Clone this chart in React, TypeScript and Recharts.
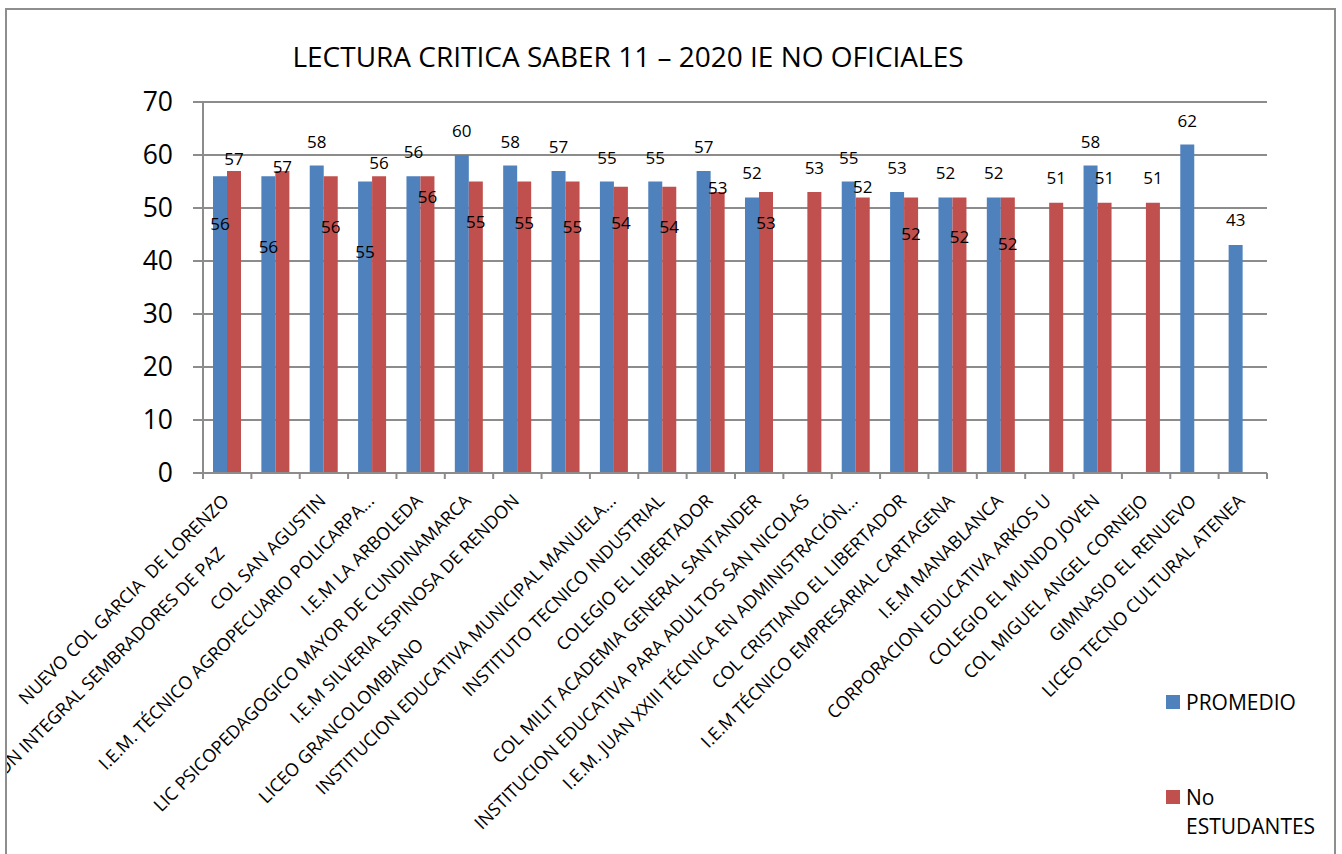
import React from 'react';
import { BarChart, Bar, XAxis, YAxis, CartesianGrid, LabelList, Legend } from 'recharts';

const categories = [
  'NUEVO COL GARCIA  DE LORENZO',
  'INSTITUCION INTEGRAL SEMBRADORES DE PAZ',
  'COL SAN AGUSTIN',
  'I.E.M. TÉCNICO AGROPECUARIO POLICARPA...',
  'I.E.M LA ARBOLEDA',
  'LIC PSICOPEDAGOGICO MAYOR DE CUNDINAMARCA',
  'I.E.M SILVERIA ESPINOSA DE RENDON',
  'LICEO GRANCOLOMBIANO',
  'INSTITUCION EDUCATIVA MUNICIPAL MANUELA...',
  'INSTITUTO TECNICO INDUSTRIAL',
  'COLEGIO EL LIBERTADOR',
  'COL MILIT ACADEMIA GENERAL SANTANDER',
  'INSTITUCION EDUCATIVA PARA ADULTOS SAN NICOLAS',
  'I.E.M. JUAN XXIII TÉCNICA EN ADMINISTRACIÓN...',
  'COL CRISTIANO EL LIBERTADOR',
  'I.E.M TÉCNICO EMPRESARIAL CARTAGENA',
  'I.E.M MANABLANCA',
  'CORPORACION EDUCATIVA ARKOS U',
  'COLEGIO EL MUNDO JOVEN',
  'COL MIGUEL ANGEL CORNEJO',
  'GIMNASIO EL RENUEVO',
  'LICEO TECNO CULTURAL ATENEA',
];

const promedio: (number | null)[] = [56, 56, 58, 55, 56, 60, 58, 57, 55, 55, 57, 52, null, 55, 53, 52, 52, null, 58, null, 62, 43];
const noEstudiantes: (number | null)[] = [57, 57, 56, 56, 56, 55, 55, 55, 54, 54, 53, 53, 53, 52, 52, 52, 52, 51, 51, 51, null, null];
const yTicks = [0, 10, 20, 30, 40, 50, 60, 70];

const title = 'LECTURA CRITICA SABER 11 – 2020 IE NO OFICIALES';
const seriesNames = ['PROMEDIO', 'No ESTUDANTES'];

// layout of value labels (px from bar top to label centre), as placed in the reference
const promedioLabelOffset = [48, 71, -24, 70, -24, -24, -24, -24, -24, -24, -24, -24, 0, -24, -24, -24, -24, 0, -24, 0, -23, -25];
const estudiantesLabelOffset = [-12, -4, 51, -13, 21, 40, 41, 45, 36, 40, -4, 31, -24, -10, 37, 40, 47, -25, -25, -25, 0, 0];
// some category labels sit lower along their diagonal in the reference
const tickLabelDrop = [0, 53, 0, 0, 0, 0, 0, 144, 0, 0, 0, 0, 0, 0, 0, 0, 0, 0, 0, 0, 0, 0];

const data = categories.map((name, i) => ({ name, promedio: promedio[i], estudiantes: noEstudiantes[i] }));

const BLUE = '#4F81BD';
const RED = '#C0504D';
const GRID = '#8c8c8c';
const FONT = '"Open Sans", sans-serif';

const CHART_LEFT = 7;
const CHART_W = 1327;
const CHART_H = 854;
const YAXIS_W = 196;
const MARGIN_TOP = 102;
const MARGIN_RIGHT = 67;
const XAXIS_H = 381;
const PLOT_W = CHART_W - YAXIS_W - MARGIN_RIGHT;
const BAND = PLOT_W / categories.length;
const AXIS_Y = CHART_H - XAXIS_H;

const CategoryTick = (props: any) => {
  const { payload, index } = props;
  const cx = payload.coordinate;
  const drop = tickLabelDrop[index] || 0;
  const ax = cx + 3 - drop;
  const ay = AXIS_Y + 29 + drop;
  return (
    <g>
      <line x1={cx - BAND / 2} x2={cx - BAND / 2} y1={AXIS_Y} y2={AXIS_Y + 6} stroke={GRID} strokeWidth={2} />
      {index === categories.length - 1 && (
        <line x1={cx + BAND / 2} x2={cx + BAND / 2} y1={AXIS_Y} y2={AXIS_Y + 6} stroke={GRID} strokeWidth={2} />
      )}
      <text
        x={ax}
        y={ay}
        textAnchor="end"
        transform={`rotate(-45 ${ax} ${ay})`}
        fontSize={18}
        fontFamily={FONT}
        fill="#000"
        style={{ whiteSpace: 'pre' }}
      >
        {payload.value}
      </text>
    </g>
  );
};

const makeValueLabel = (offsets: number[]) => (props: any) => {
  const { x, width, y, value } = props;
  if (value === null || value === undefined) return null;
  const cx = Number(x) + Number(width) / 2;
  const cat = Math.floor((cx - YAXIS_W) / BAND);
  const cy = Number(y) + (offsets[cat] || 0);
  return (
    <text x={cx} y={cy + 6} textAnchor="middle" fontSize={17} fontFamily={FONT} fill="#000">
      {value}
    </text>
  );
};

const LegendContent = () => (
  <div style={{ fontFamily: FONT, fontSize: 21, color: '#000', position: 'relative', width: 170, height: 160 }}>
    <div style={{ position: 'absolute', left: 0, top: 0, display: 'flex', alignItems: 'flex-start', lineHeight: '28px' }}>
      <span style={{ display: 'inline-block', width: 14, height: 14, background: BLUE, marginTop: 7 }} />
      <span style={{ marginLeft: 6 }}>{seriesNames[0]}</span>
    </div>
    <div style={{ position: 'absolute', left: 0, top: 95, display: 'flex', alignItems: 'flex-start', lineHeight: '29px' }}>
      <span style={{ display: 'inline-block', width: 14, height: 14, background: RED, marginTop: 7, flex: 'none' }} />
      <span style={{ marginLeft: 6, width: 135 }}>{seriesNames[1]}</span>
    </div>
  </div>
);

export default function App() {
  return (
    <div style={{ position: 'absolute', left: 0, top: 0, width: 1342, height: 854, overflow: 'hidden', background: '#fff' }}>
      <div
        style={{
          position: 'absolute',
          left: 5,
          top: 8,
          width: 1331,
          height: 900,
          border: '2px solid #8e8e8e',
          boxSizing: 'border-box',
        }}
      />
      <div
        style={{
          position: 'absolute',
          left: 228,
          top: 37,
          width: 800,
          textAlign: 'center',
          fontFamily: FONT,
          fontSize: 28,
          color: '#000',
          whiteSpace: 'nowrap',
        }}
      >
        {title}
      </div>
      <div style={{ position: 'absolute', left: CHART_LEFT, top: 0, width: CHART_W, height: CHART_H, overflow: 'hidden' }}>
        <BarChart
          width={CHART_W}
          height={CHART_H}
          data={data}
          margin={{ top: MARGIN_TOP, right: MARGIN_RIGHT, bottom: 0, left: 0 }}
          barGap={0}
          barSize={14}
        >
          <CartesianGrid vertical={false} stroke={GRID} strokeWidth={2} />
          <XAxis
            dataKey="name"
            interval={0}
            height={XAXIS_H}
            tick={<CategoryTick />}
            tickLine={false}
            axisLine={{ stroke: GRID, strokeWidth: 2 }}
          />
          <YAxis
            width={YAXIS_W}
            domain={[0, 70]}
            ticks={yTicks}
            interval={0}
            tickSize={10}
            tickMargin={20}
            tickLine={{ stroke: GRID, strokeWidth: 2 }}
            axisLine={{ stroke: GRID, strokeWidth: 2 }}
            tick={{ fontSize: 26.5, fontFamily: FONT, fill: '#000' }}
          />
          <Legend
            layout="vertical"
            align="center"
            verticalAlign="middle"
            wrapperStyle={{ left: 1159, top: 688, width: 170 }}
            content={<LegendContent />}
          />
          <Bar dataKey="promedio" name={seriesNames[0]} fill={BLUE} isAnimationActive={false}>
            <LabelList dataKey="promedio" content={makeValueLabel(promedioLabelOffset)} />
          </Bar>
          <Bar dataKey="estudiantes" name={seriesNames[1]} fill={RED} isAnimationActive={false}>
            <LabelList dataKey="estudiantes" content={makeValueLabel(estudiantesLabelOffset)} />
          </Bar>
        </BarChart>
      </div>
    </div>
  );
}
